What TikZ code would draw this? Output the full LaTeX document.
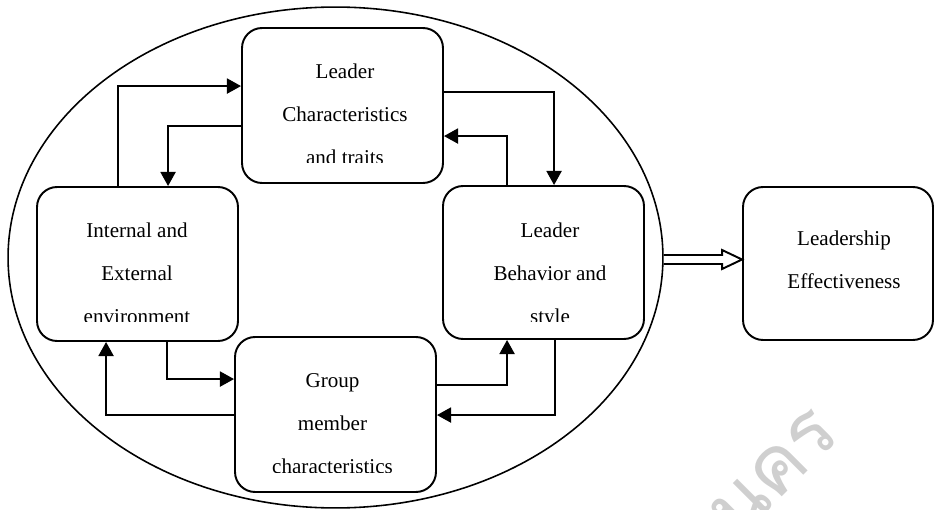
\documentclass[tikz,border=0pt]{standalone}
\usepackage{fontspec}
\setmainfont{Liberation Serif}
\newfontfamily\thaifont[Script=Thai]{Loma}
\usetikzlibrary{shapes.geometric,arrows.meta,calc}
\begin{document}
\begin{tikzpicture}[x=0.02cm,y=-0.02cm,
  box/.style={draw, line width=1.1pt, rounded corners=0.4cm, fill=white, inner sep=0},
  lbl/.style={font=\fontsize{12}{14}\selectfont, anchor=base, inner sep=0},
  conn/.style={line width=1.2pt, -{Triangle[length=8pt,width=8.5pt]}},
  hollow/.style={line width=1.1pt, line join=miter},
  wm/.style={font=\thaifont\fontsize{45}{45}\selectfont, text=black!19, rotate=45, inner sep=0}
]
\useasboundingbox (0,0) rectangle (934,510);

% faint watermark in the lower right
\begin{scope}
  \clip (0,0) rectangle (934,510);
  \node[wm, anchor=base east] (wmark) at (843,436) {นคร};
\end{scope}

% the big ellipse round the four factors
\node[ellipse, draw, line width=0.9pt, inner sep=0,
      minimum width=13.10cm, minimum height=10.02cm] (ell) at (335.5,257.5) {};

% boxes
\node[box, minimum width=4.02cm, minimum height=3.10cm] (topb)   at (342.5,105.5) {};
\node[box, minimum width=4.02cm, minimum height=3.08cm] (leftb)  at (137.5,264) {};
\node[box, minimum width=4.02cm, minimum height=3.06cm] (rightb) at (543.5,262.5) {};
\node[box, minimum width=4.02cm, minimum height=3.10cm] (grpb)   at (335.5,414.5) {};
\node[box, minimum width=3.80cm, minimum height=3.06cm] (effb)   at (838,263.5) {};

% box texts (the last line of each factor box is cut by its text frame)
\begin{scope}
  \clip (242,28) rectangle (443,163);
  \node[lbl] (t1) at (345,79)  {Leader};
  \node[lbl] (t2) at (345,122) {Characteristics};
  \node[lbl] (t3) at (345,165) {and traits};
\end{scope}
\begin{scope}
  \clip (37,187) rectangle (238,321);
  \node[lbl] (l1) at (137,237) {Internal and};
  \node[lbl] (l2) at (137,280) {External};
  \node[lbl] (l3) at (137,323) {environment};
\end{scope}
\begin{scope}
  \clip (443,186) rectangle (644,321);
  \node[lbl] (r1) at (550,237) {Leader};
  \node[lbl] (r2) at (550,280) {Behavior and};
  \node[lbl] (r3) at (550,323) {style};
\end{scope}
\begin{scope}
  \clip (235,337) rectangle (436,472);
  \node[lbl] (g1) at (332.5,387)   {Group};
  \node[lbl] (g2) at (332.5,430)   {member};
  \node[lbl] (g3) at (332.5,473.5) {characteristics};
\end{scope}
\node[lbl] (e1) at (844,245.5) {Leadership};
\node[lbl] (e2) at (844,288.5) {Effectiveness};

% feedback connectors between the factors
\draw[conn] ($(leftb.north west)+(82,0)$)  |- ($(topb.north west)+(0,59)$);
\draw[conn] ($(topb.north west)+(0,99)$)   -| ($(leftb.north west)+(132,0)$);
\draw[conn] ($(topb.north east)+(0,65)$)   -| ($(rightb.north west)+(112,0)$);
\draw[conn] ($(rightb.north west)+(65,0)$) |- ($(topb.north east)+(0,109)$);
\draw[conn] ($(leftb.south west)+(131,0)$) |- ($(grpb.north west)+(0,43)$);
\draw[conn] ($(grpb.north west)+(0,79)$)   -| ($(leftb.south west)+(70,0)$);
\draw[conn] ($(grpb.north east)+(0,49)$)   -| ($(rightb.south west)+(65,0)$);
\draw[conn] ($(rightb.south west)+(113,0)$) |- ($(grpb.north east)+(0,79)$);

% hollow arrow to the outcome
\coordinate (tip) at ($(effb.west)+(0,-4)$);
\draw[hollow] ($(ell.east|-tip)+(0,-4.5)$) -- ($(tip)+(-20,-4.5)$) -- ($(tip)+(-20,-9.5)$)
  -- (tip) -- ($(tip)+(-20,9.5)$) -- ($(tip)+(-20,4.5)$) -- ($(ell.east|-tip)+(0,4.5)$);
\end{tikzpicture}
\end{document}
